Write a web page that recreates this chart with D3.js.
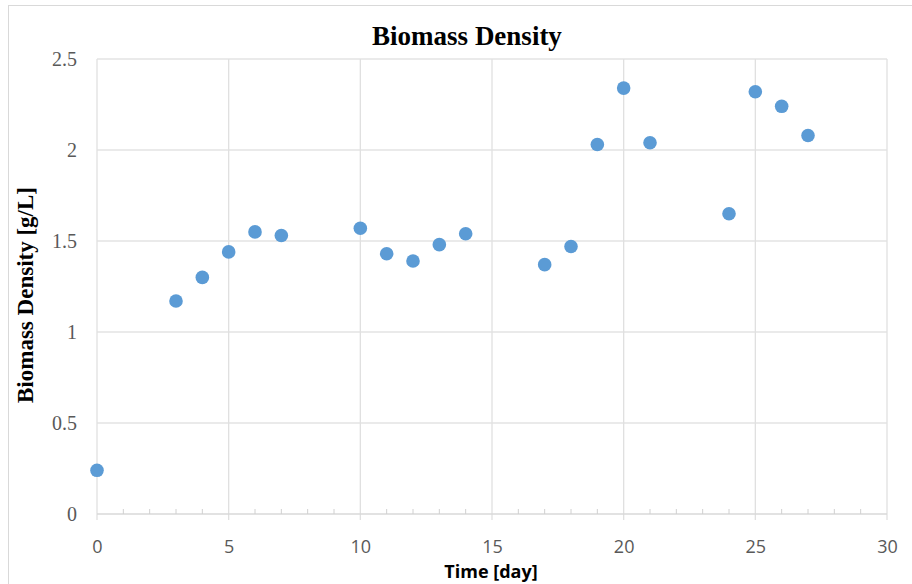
<!DOCTYPE html>
<html>
<head>
<meta charset="utf-8">
<script src="https://cdn.jsdelivr.net/npm/d3@7"></script>
<style>
    body { margin: 0; background: #fff; }
    svg { display: block; }
</style>
</head>
<body>
<div id="chart"></div>
<script>
    // data
    var days = [0, 3, 4, 5, 6, 7, 10, 11, 12, 13, 14, 17, 18, 19, 20, 21, 24, 25, 26, 27]
    var density = [0.24, 1.17, 1.30, 1.44, 1.55, 1.53, 1.57, 1.43, 1.39, 1.48, 1.54,
        1.37, 1.47, 2.03, 2.34, 2.04, 1.65, 2.32, 2.24, 2.08]
    var xTicks = [0, 5, 10, 15, 20, 25, 30]
    var xMinor = d3.range(0, 31, 1)
    var yTicks = [0, 0.5, 1, 1.5, 2, 2.5]

    var width = 912
    var height = 584
    var margin = { left: 97, right: 25, top: 59, bottom: 70 }  // plot area 97..887, 59..514

    var svg = d3.select('#chart')
        .append('svg')
        .attr('width', width)
        .attr('height', height)

    // chart frame (cut off on the right and bottom like the picture)
    svg.append('rect')
        .attr('x', 8.5)
        .attr('y', 5.5)
        .attr('width', width)
        .attr('height', height)
        .style('fill', '#fff')
        .attr('stroke', '#d9d9d9')

    var x = d3.scaleLinear()
        .domain([0, 30])
        .range([margin.left, width - margin.right])

    var y = d3.scaleLinear()
        .domain([0, 2.5])
        .range([height - margin.bottom, margin.top])

    // horizontal grid
    svg.append('g')
        .selectAll('line')
        .data(yTicks.slice(1))
        .enter()
        .append('line')
        .attr('x1', x(0))
        .attr('x2', x(30))
        .attr('y1', function (d) { return y(d) })
        .attr('y2', function (d) { return y(d) })
        .attr('stroke', '#e3e3e3')
        .style('stroke-width', 1.3)

    // vertical grid, running a bit below the axis like Excel major ticks
    svg.append('g')
        .selectAll('line')
        .data(xTicks)
        .enter()
        .append('line')
        .attr('x1', function (d) { return x(d) })
        .attr('x2', function (d) { return x(d) })
        .attr('y1', y(2.5))
        .attr('y2', y(0) + 6)
        .attr('stroke', '#e0e0e0')
        .style('stroke-width', 1.3)

    // x axis line + minor ticks
    svg.append('line')
        .attr('x1', x(0))
        .attr('x2', x(30))
        .attr('y1', y(0))
        .attr('y2', y(0))
        .attr('stroke', '#d9d9d9')
        .style('stroke-width', 1.3)

    svg.append('g')
        .selectAll('line')
        .data(xMinor.filter(function (d) { return d % 5 != 0 }))
        .enter()
        .append('line')
        .attr('x1', function (d) { return x(d) })
        .attr('x2', function (d) { return x(d) })
        .attr('y1', y(0) - 5)
        .attr('y2', y(0))
        .attr('stroke', '#d0d0d0')

    // tick labels
    var xAxis = svg.append('g')
        .attr('transform', 'translate(0,' + (y(0) + 39) + ')')
        .call(d3.axisBottom(x).tickValues(xTicks).tickSize(0).tickPadding(0))
    xAxis.select('.domain').remove()
    xAxis.selectAll('text')
        .attr('dy', 0)
        .style('font-family', '"Open Sans", sans-serif')
        .style('font-size', '18px')
        .style('fill', '#595959')

    var yAxis = svg.append('g')
        .attr('transform', 'translate(' + (x(0) - 20) + ',0)')
        .call(d3.axisLeft(y).tickValues(yTicks).tickFormat(d3.format('')).tickSize(0).tickPadding(0))
    yAxis.select('.domain').remove()
    yAxis.selectAll('text')
        .attr('dy', '0.32em')
        .style('font-family', '"Liberation Serif", "Times New Roman", serif')
        .style('font-size', '20px')
        .style('fill', '#595959')

    // points
    svg.append('g')
        .selectAll('circle')
        .data(days)
        .enter()
        .append('circle')
        .attr('cx', function (d) { return x(d) })
        .attr('cy', function (d, i) { return y(density[i]) })
        .attr('r', 6.8)
        .style('fill', '#5b9bd5')

    // titles
    svg.append('text')
        .attr('x', 467)
        .attr('y', 45)
        .attr('text-anchor', 'middle')
        .style('font-family', '"Liberation Serif", "Times New Roman", serif')
        .style('font-weight', 'bold')
        .style('font-size', '27px')
        .style('fill', '#000')
        .text('Biomass Density')

    svg.append('text')
        .attr('x', 491)
        .attr('y', 578)
        .attr('text-anchor', 'middle')
        .style('font-family', '"Open Sans", sans-serif')
        .style('font-weight', 'bold')
        .style('font-size', '18px')
        .style('fill', '#000')
        .text('Time [day]')

    svg.append('text')
        .attr('transform', 'translate(33,295) rotate(-90)')
        .attr('text-anchor', 'middle')
        .style('font-family', '"Liberation Serif", "Times New Roman", serif')
        .style('font-weight', 'bold')
        .style('font-size', '23px')
        .style('fill', '#000')
        .text('Biomass Density [g/L]')
</script>
</body>
</html>
